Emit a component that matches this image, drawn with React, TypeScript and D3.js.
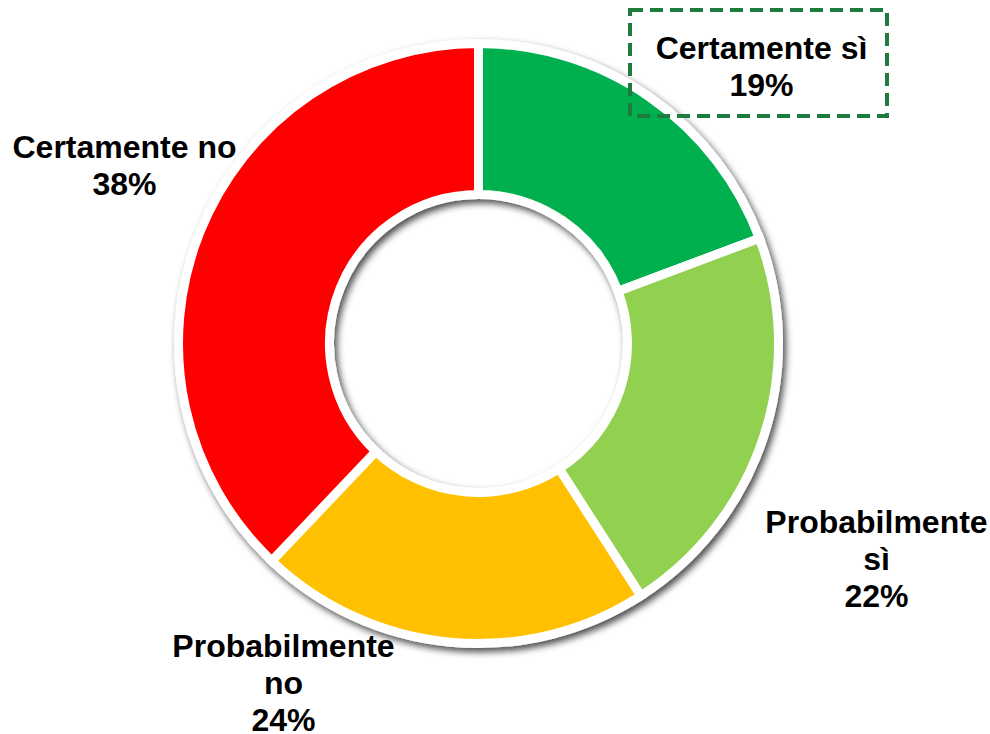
import React from 'react';
import * as d3 from 'd3';

// Slice order: clockwise from 12 o'clock
const categories = ['Certamente sì', 'Probabilmente sì', 'Probabilmente no', 'Certamente no'];
// slice sizes
const sliceValues = [19.3, 21.6, 21.2, 37.9];
// printed percentage labels
const percentLabels = ['19%', '22%', '24%', '38%'];
const colors = ['#00B050', '#92D050', '#FFC000', '#FF0000'];

// label text lines (category split as in the original)
const labelLines = [
    ['Certamente sì'],
    ['Probabilmente', 'sì'],
    ['Probabilmente', 'no'],
    ['Certamente no'],
];
// label block offsets from donut centre (first baseline)
const labelOffsets: [number, number][] = [
    [283, -285],
    [398, 189],
    [-195, 313],
    [-354, -186],
];

const WIDTH = 990;
const HEIGHT = 734;
const CX = 478.5;
const CY = 343.5;
const OUTER = 300;
const INNER = 149;
const LINE_H = 37;

export default function App() {
    const pie = d3.pie<number>().sort(null).value(d => d).startAngle(0).endAngle(2 * Math.PI);
    const arcs = pie(sliceValues);
    const arcGen = d3.arc<d3.PieArcDatum<number>>().innerRadius(INNER).outerRadius(OUTER);

    return (
        <svg
            width={WIDTH}
            height={HEIGHT}
            style={{ position: 'absolute', left: 0, top: 0, background: '#fff' }}
            fontFamily="'Liberation Sans', Arial, sans-serif"
        >
            <defs>
                <filter id="shadow" x="-20%" y="-20%" width="140%" height="140%">
                    <feDropShadow dx={3} dy={4} stdDeviation={3.5} floodColor="#000" floodOpacity={0.7} />
                </filter>
            </defs>

            <g transform={`translate(${CX},${CY})`} filter="url(#shadow)">
                {arcs.map((a, i) => (
                    <path
                        key={categories[i]}
                        d={arcGen(a) || ''}
                        fill={colors[i]}
                        stroke="#fff"
                        strokeWidth={9}
                        strokeLinejoin="miter"
                    />
                ))}
            </g>

            {/* dashed label box for first slice */}
            <rect
                x={630}
                y={10}
                width={257}
                height={106}
                fill="none"
                stroke="#1E7B3E"
                strokeWidth={4}
                strokeDasharray="13 7"
            />

            {labelLines.map((lines, i) => {
                const [dx, dy] = labelOffsets[i];
                const all = [...lines, percentLabels[i]];
                return (
                    <text
                        key={categories[i]}
                        x={CX + dx}
                        y={CY + dy}
                        textAnchor="middle"
                        fontSize={32}
                        fontWeight="bold"
                        fill="#000"
                    >
                        {all.map((t, j) => (
                            <tspan key={j} x={CX + dx} dy={j === 0 ? 0 : LINE_H}>{t}</tspan>
                        ))}
                    </text>
                );
            })}
        </svg>
    );
}
